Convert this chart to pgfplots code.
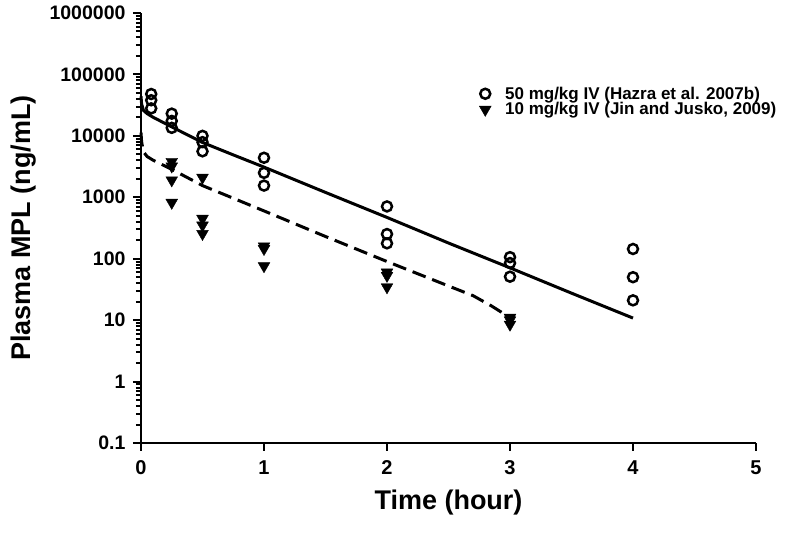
\documentclass[border=0pt]{standalone}
\usepackage{fontspec}
\setmainfont{Liberation Sans}
\usepackage{pgfplots}
\pgfplotsset{compat=1.18}
\begin{document}
\begin{tikzpicture}
\begin{axis}[
  at={(0pt,0pt)}, anchor=south west,
  scale only axis, width=615pt, height=430pt,
  xmin=0, xmax=5, ymin=0.1, ymax=1000000,
  ymode=log,
  axis lines*=left,
  axis line style={line width=2.8pt, -},
  xtick={0,1,2,3,4,5},
  xticklabels={0,1,2,3,4,5},
  ytick={0.1,1,10,100,1000,10000,100000,1000000},
  yticklabels={0.1,1,10,100,1000,10000,100000,1000000},
  /pgf/number format/assume math mode=true,
  tick align=outside,
  major tick length=8pt, minor tick length=5pt,
  every tick/.style={line width=2pt, black},
  minor y tick num=8,
  xticklabel style={font=\fontsize{20}{20}\selectfont\bfseries, yshift=-6pt},
  yticklabel style={font=\fontsize{19.5}{20}\selectfont\bfseries, xshift=-4pt},
  xlabel={Time (hour)},
  ylabel={Plasma MPL (ng/mL)},
  xlabel style={font=\fontsize{27}{27}\selectfont\bfseries, yshift=-8pt},
  ylabel style={font=\fontsize{27}{27}\selectfont\bfseries, yshift=6pt},
  legend style={draw=none, fill=none, at={(0.545,0.838)}, anchor=north west,
    font=\fontsize{17}{17}\selectfont\bfseries, row sep=-2pt,
    /tikz/every odd column/.append style={column sep=12pt}},
  legend cell align=left,
  clip=false,
]
% model fits
\addplot[black, line width=3pt, forget plot] coordinates {
 (0,44000) (0.005,33000) (0.02,26000) (0.05,23000) (0.1,20000) (0.25,14000)
 (0.5,7800) (0.75,4900) (1,3100) (1.5,1200) (2,470) (2.5,180) (3,71) (3.5,27.5) (4,10.8)};
\addplot[black, line width=3pt, dash pattern=on 14pt off 7pt, forget plot] coordinates {
 (0,11300) (0.005,8000) (0.02,5500) (0.05,4600) (0.1,4000) (0.25,2850)
 (0.5,1550) (0.75,965) (1,600) (1.5,230) (2,90) (2.5,36) (2.7,25) (2.85,17) (3,11)};
% 50 mg/kg IV
\addplot[only marks, mark=o, mark size=5pt, line width=2.5pt, black] coordinates {
 (0.083,48000) (0.083,38000) (0.083,28000)
 (0.25,23000) (0.25,17500) (0.25,13500)
 (0.5,10000) (0.5,7900) (0.5,5600)
 (1,4400) (1,2500) (1,1550)
 (2,710) (2,252) (2,178)
 (3,106) (3,85) (3,51)
 (4,144) (4,50) (4,21)};
\addlegendentry{50 mg/kg IV (Hazra et al. 2007b)}
% 10 mg/kg IV
\addplot[only marks, mark=triangle*, mark options={rotate=180}, mark size=6.8pt, black] coordinates {
 (0.25,3800) (0.25,3200) (0.25,1900) (0.25,820)
 (0.5,2100) (0.5,450) (0.5,350) (0.5,255)
 (1,160) (1,145) (1,76)
 (2,60) (2,53) (2,34.5)
 (3,11) (3,10) (3,8.5)};
\addlegendentry{10 mg/kg IV (Jin and Jusko, 2009)}
\end{axis}
\pgfresetboundingbox
\useasboundingbox (-141pt,-94pt) rectangle (648pt,443pt);
\end{tikzpicture}
\end{document}
